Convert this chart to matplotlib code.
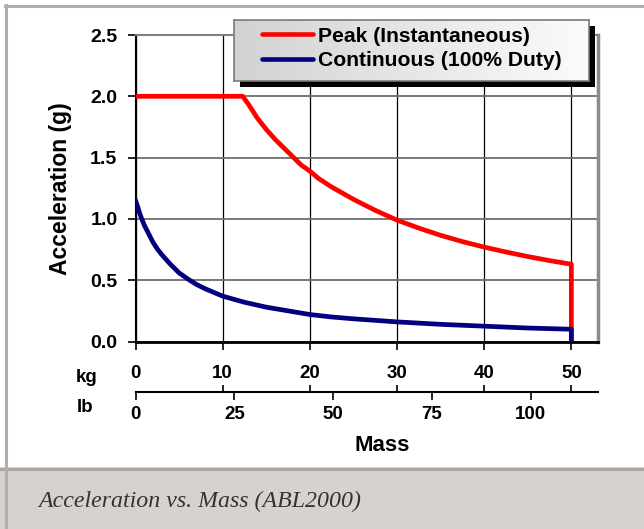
import numpy as np
import matplotlib.pyplot as plt
from matplotlib.patches import Rectangle
from matplotlib.lines import Line2D
from matplotlib.colors import LinearSegmentedColormap

plt.rcParams['font.family'] = ['Liberation Sans', 'DejaVu Sans']
plt.rcParams['font.weight'] = 'bold'

# (mass in kg, acceleration in g)
peak_kg = [0, 12.3, 13, 14, 15, 16, 17, 18, 19, 20, 21, 22.5, 24, 25, 27.5, 30, 32.5, 35,
           37.5, 40, 42.5, 45, 47.5, 50, 50]
peak_g = [2.0, 2.0, 1.93, 1.82, 1.73, 1.65, 1.58, 1.51, 1.44, 1.39, 1.33, 1.26, 1.20, 1.16,
          1.07, 0.99, 0.925, 0.866, 0.815, 0.77, 0.73, 0.693, 0.66, 0.63, 0.0]

cont_kg = [0, 0.25, 0.5, 1, 1.5, 2, 2.5, 3, 4, 5, 6, 7, 8, 9, 10, 12.5, 15, 17.5, 20, 22.5,
           25, 30, 35, 40, 45, 50, 50]
cont_g = [1.15, 1.10, 1.04, 0.95, 0.88, 0.81, 0.755, 0.71, 0.63, 0.56, 0.51, 0.465, 0.43,
          0.40, 0.37, 0.32, 0.28, 0.25, 0.22, 0.20, 0.185, 0.16, 0.14, 0.125, 0.11, 0.10, 0.0]

series_names = ['Peak (Instantaneous)', 'Continuous (100% Duty)']
kg_ticks = [0, 10, 20, 30, 40, 50]
lb_ticks = [0, 25, 50, 75, 100]
y_ticks = [0.0, 0.5, 1.0, 1.5, 2.0, 2.5]
KG_TO_LB = 2.20462

W, H = 644, 529
fig = plt.figure(figsize=(W / 100, H / 100), dpi=100)

# page decoration: border + caption strip
fig.patches.append(Rectangle((0, 0), 1, 62 / H, transform=fig.transFigure,
                             facecolor='#d6d3ce', edgecolor='none', zorder=0))
fig.add_artist(Line2D([0, 1], [1 - 468.5 / H] * 2, color='#aca79f', lw=2.2))
fig.add_artist(Line2D([6 / W, 6 / W], [0, 1 - 5 / H], color='#b3ada5', lw=2.2))
fig.add_artist(Line2D([5 / W, 1], [1 - 6 / H] * 2, color='#b3ada5', lw=2.2))
fig.text(38 / W, 1 - 507 / H, 'Acceleration vs. Mass (ABL2000)', family='Liberation Serif',
         style='italic', weight='normal', fontsize=17.2, color='#333333', va='baseline')

ax = fig.add_axes([135.5 / W, 1 - 341.5 / H, 462 / W, 306.5 / H])
ax.set_xlim(0, 53)
ax.set_ylim(0, 2.5)

ax.plot(peak_kg, peak_g, color='#ff0000', lw=3.4, zorder=3, label=series_names[0])
ax.plot(cont_kg, cont_g, color='#000080', lw=3.4, zorder=4, label=series_names[1])

ax.set_yticks(y_ticks, labels=['%.1f' % v for v in y_ticks])
ax.set_xticks(kg_ticks, labels=[str(k) for k in kg_ticks])
ax.tick_params(axis='y', direction='out', length=6, width=1.2, pad=7, labelsize=14)
ax.tick_params(axis='x', direction='out', length=6, width=1.2, pad=11, labelsize=13.5)
ax.grid(axis='y', color='#6e6e6e', lw=1.3)
ax.grid(axis='x', color='black', lw=0.9)
ax.set_axisbelow(True)

ax.spines['left'].set_linewidth(1.5)
ax.spines['bottom'].set_linewidth(2)
ax.spines['top'].set_color('#808080')
ax.spines['top'].set_linewidth(1.5)
ax.spines['right'].set_color('#8c8c8c')
ax.spines['right'].set_linewidth(2.5)

ax.set_ylabel('Acceleration (g)', fontsize=16.5, fontweight='bold')
ax.yaxis.set_label_coords(-0.137, 0.5)

# lb scale under the kg scale
sec = ax.secondary_xaxis(-0.165, functions=(lambda x: x * KG_TO_LB, lambda x: x / KG_TO_LB))
sec.set_xticks(lb_ticks, labels=[str(v) for v in lb_ticks])
sec.set_xticks([k * KG_TO_LB for k in kg_ticks], minor=True)
sec.tick_params(which='major', direction='out', length=6, width=1.2, pad=4, labelsize=13.5)
sec.tick_params(which='minor', direction='in', length=5, width=1.2)
sec.spines['bottom'].set_linewidth(1.5)

fig.text(76 / W, 1 - 382 / H, 'kg', fontsize=13.5, va='baseline')
fig.text(77 / W, 1 - 412 / H, 'lb', fontsize=13.5, va='baseline')
fig.text(382 / W, 1 - 451 / H, 'Mass', fontsize=16, ha='center', va='baseline')

# legend box with shadow and gradient
bx, by, bw, bh = 234, 20, 355, 61
fig.patches.append(Rectangle(((bx + 6) / W, 1 - (by + bh + 6) / H), bw / W, bh / H,
                             transform=fig.transFigure, facecolor='black', zorder=6))
lax = fig.add_axes([bx / W, 1 - (by + bh) / H, bw / W, bh / H], zorder=7)
grad = np.linspace(0, 1, 256).reshape(1, -1)
lax.imshow(grad, aspect='auto', cmap=LinearSegmentedColormap.from_list('g', ['#d2d2d2', '#fbfbfb']))
lax.set_xticks([])
lax.set_yticks([])
for s in lax.spines.values():
    s.set_color('#7a7a7a')
    s.set_linewidth(1.2)

handles, labels = ax.get_legend_handles_labels()
leg = fig.legend(handles, labels, loc='center left', bbox_to_anchor=(262 / W, 1 - 48.5 / H),
                 frameon=False, fontsize=15.2, handlelength=2.4, handletextpad=0.25,
                 borderpad=0, borderaxespad=0, labelspacing=0.25)
leg.set_zorder(10)
for line in leg.get_lines():
    line.set_solid_capstyle('round')
    line.set_linewidth(3.3)

fig.savefig('out.png', dpi=100)
